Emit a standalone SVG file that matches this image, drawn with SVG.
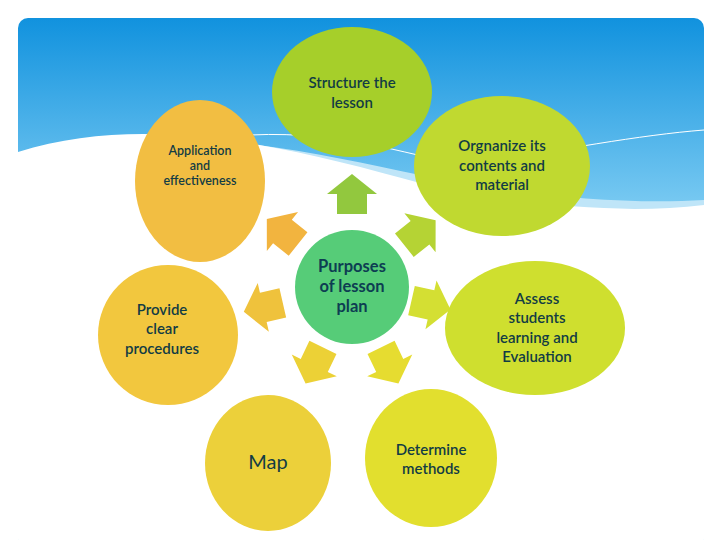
<svg xmlns="http://www.w3.org/2000/svg" width="720" height="540" viewBox="0 0 720 540">
<defs>
<linearGradient id="sky" x1="0" y1="0" x2="0" y2="1"><stop offset="0" stop-color="#1192de"/><stop offset="1" stop-color="#7fcdf3"/></linearGradient>
<path id="arr" d="M0,-20 L25,0 L15,0 L15,20 L-15,20 L-15,0 L-25,0 Z"/>
<clipPath id="cp"><rect x="18" y="18" width="686" height="530" rx="10"/></clipPath>
</defs>
<style>
text{font-family:Lato,"Open Sans",sans-serif;fill:#123c44;text-anchor:middle;font-size:15px;font-weight:600}
.b{font-weight:bold;font-size:16.5px;fill:#0d3d52}
</style>
<rect width="720" height="540" fill="#fff"/>
<g clip-path="url(#cp)">
<rect x="18" y="18" width="686" height="200" fill="url(#sky)"/>
<path d="M18,160 C150,115 300,150 420,175 C520,195 620,205 704,200 L704,540 L18,540 Z" fill="#bfe5f8"/>
<path d="M18,152 C150,110 300,150 420,183 C520,205 620,215 704,205 L704,540 L18,540 Z" fill="#fff"/>
<path d="M250,135 C350,130 420,160 470,165 C560,150 640,135 704,130" fill="none" stroke="#fff" stroke-width="1"/>
</g>
<g id="arrows">
<use href="#arr" fill="#92c83e" transform="translate(352,287) rotate(0) translate(0,-93)"/>
<use href="#arr" fill="#b5d334" transform="translate(352,287) rotate(51.4) translate(0,-87)"/>
<use href="#arr" fill="#d4df33" transform="translate(352,287) rotate(102.8) translate(0,-81)"/>
<use href="#arr" fill="#e6dc30" transform="translate(352,287) rotate(154.3) translate(0,-87)"/>
<use href="#arr" fill="#ecd136" transform="translate(352,287) rotate(205.7) translate(0,-87)"/>
<use href="#arr" fill="#efc23c" transform="translate(352,287) rotate(257.1) translate(0,-91)"/>
<use href="#arr" fill="#f2b43f" transform="translate(352,287) rotate(308.6) translate(0,-89)"/>
</g>
<g id="center"><ellipse cx="352" cy="287" rx="57" ry="57" fill="#56cc78"/>
<text class="b" x="352" y="272">Purposes</text><text class="b" x="352" y="292">of lesson</text><text class="b" x="352" y="312">plan</text></g>
<g id="structure"><ellipse cx="352" cy="92" rx="80" ry="65" fill="#a6cf2a"/>
<text x="352" y="88">Structure  the</text><text x="352" y="108">lesson</text></g>
<g id="application"><ellipse cx="200" cy="181" rx="65" ry="81" fill="#f2be42"/>
<text x="200" y="155" style="font-size:12.5px">Application</text><text x="200" y="170" style="font-size:12.5px">and</text><text x="200" y="185" style="font-size:12.5px">effectiveness</text></g>
<g id="organize"><ellipse cx="502" cy="166" rx="88" ry="70" fill="#c0d930"/>
<text x="502" y="151">Orgnanize its</text><text x="502" y="171">contents and</text><text x="502" y="190">material</text></g>
<g id="provide"><ellipse cx="168" cy="335" rx="70" ry="70" fill="#f2c73e"/>
<text x="162" y="315">Provide</text><text x="162" y="334">clear</text><text x="162" y="354">procedures</text></g>
<g id="assess"><ellipse cx="535" cy="328" rx="90" ry="67" fill="#cfdf2f"/>
<text x="537" y="304">Assess</text><text x="537" y="323">students</text><text x="537" y="343">learning and</text><text x="537" y="362">Evaluation</text></g>
<g id="map"><ellipse cx="268" cy="463" rx="63" ry="68" fill="#ecd03a"/>
<text x="268" y="469" style="font-size:20px;font-weight:normal">Map</text></g>
<g id="determine"><ellipse cx="431" cy="458" rx="66" ry="69" fill="#e2df2e"/>
<text x="431" y="455">Determine</text><text x="431" y="474">methods</text></g>
</svg>
